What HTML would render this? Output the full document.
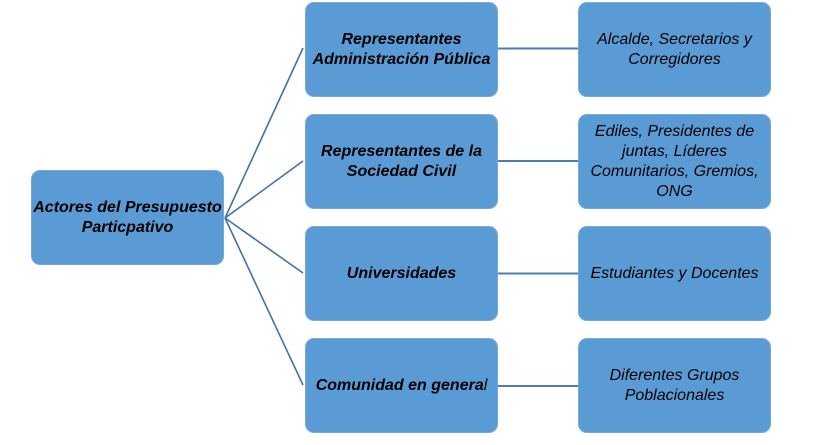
<!DOCTYPE html>
<html>
<head>
<meta charset="utf-8">
<style>
  html, body { margin:0; padding:0; background:#ffffff; }
  body { width:814px; height:445px; position:relative; overflow:hidden;
         font-family:"Liberation Sans", Arial, sans-serif; }
  .box { position:absolute; box-sizing:border-box; background:#5B9BD5;
         border:1px solid #74AADB; border-radius:9px;
         display:flex; align-items:center; justify-content:center; text-align:center;
         color:#000; font-size:16px; line-height:20px; font-style:italic; }
  .b { font-weight:bold; }
  svg { position:absolute; left:0; top:0; }
</style>
</head>
<body>
<svg width="814" height="445" viewBox="0 0 814 445">
  <g stroke="#3E72AB" stroke-width="1.6" fill="none">
    <line x1="225" y1="218" x2="303" y2="48"/>
    <line x1="225" y1="218" x2="303" y2="161"/>
    <line x1="225" y1="218" x2="303" y2="273"/>
    <line x1="225" y1="218" x2="303" y2="385"/>
  </g>
  <g stroke="#4A7EBB" stroke-width="2" fill="none">
    <line x1="498" y1="48.5" x2="579" y2="48.5"/>
    <line x1="498" y1="161" x2="579" y2="161"/>
    <line x1="498" y1="273.5" x2="579" y2="273.5"/>
    <line x1="498" y1="386" x2="579" y2="386"/>
  </g>
</svg>

<div class="box b" style="left:31px;top:170px;width:193px;height:95px;">Actores del Presupuesto<br>Particpativo</div>

<div class="box b" style="left:305px;top:2px;width:193px;height:95px;">Representantes<br>Administración Pública</div>
<div class="box b" style="left:305px;top:114px;width:193px;height:95px;">Representantes de la<br>Sociedad Civil</div>
<div class="box b" style="left:305px;top:226px;width:193px;height:95px;">Universidades</div>
<div class="box" style="left:305px;top:338px;width:193px;height:95px;"><span><b>Comunidad en genera</b>l</span></div>

<div class="box" style="left:578px;top:2px;width:193px;height:95px;">Alcalde, Secretarios y<br>Corregidores</div>
<div class="box" style="left:578px;top:114px;width:193px;height:95px;">Ediles, Presidentes de<br>juntas, Líderes<br>Comunitarios, Gremios,<br>ONG</div>
<div class="box" style="left:578px;top:226px;width:193px;height:95px;">Estudiantes y Docentes</div>
<div class="box" style="left:578px;top:338px;width:193px;height:95px;">Diferentes Grupos<br>Poblacionales</div>
</body>
</html>
